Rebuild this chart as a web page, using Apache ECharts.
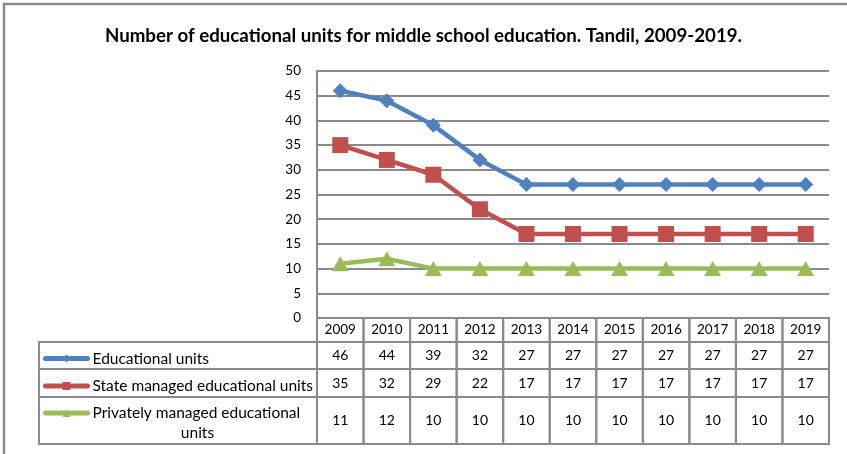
<!DOCTYPE html>
<html><head><meta charset="utf-8">
<script src="https://cdn.jsdelivr.net/npm/echarts@6/dist/echarts.min.js"></script>
<style>html,body{margin:0;padding:0;background:#fff}#c{width:847px;height:454px}</style>
</head><body><div id="c"></div>
<script>
const title = 'Number of educational units for middle school education. Tandil, 2009-2019.';
const years = ['2009','2010','2011','2012','2013','2014','2015','2016','2017','2018','2019'];
const seriesNames = ['Educational units','State managed educational units','Privately managed educational units'];
const totalUnits = [46,44,39,32,27,27,27,27,27,27,27];
const stateUnits = [35,32,29,22,17,17,17,17,17,17,17];
const privateUnits = [11,12,10,10,10,10,10,10,10,10,10];

const FONT = 'Lato';
const GRID = '#8a8a8a';
const colors = ['#4F81BD','#C0504D','#9BBB59'];
const rowOffsets = [0, 24, 51, 79, 126]; // header, row1, row2, row3 bottom (px below axis)

const chart = echarts.init(document.getElementById('c'), null, {renderer:'canvas'});

function legendFor(idx, top, extra) {
  return Object.assign({
    data: [seriesNames[idx]], left: 43, top: top, itemWidth: 42, itemHeight: 10, itemGap: 4, padding: 0,
    selectedMode: false, lineStyle: {width: 5, cap: 'round'},
    textStyle: {fontFamily: FONT, fontSize: 15.5, color: '#000'}
  }, extra || {});
}

chart.setOption({
  animation: false,
  title: {text: title, left: 'center', top: 21, textStyle: {fontFamily: FONT, fontWeight: 'bold', fontSize: 18.7, color: '#000'}},
  graphic: [{type:'rect', shape:{x:4,y:4,width:900,height:500}, style:{fill:'none', stroke:'#8a8a8a', lineWidth:2.5}, silent:true}],
  grid: {left: 317, top: 71, width: 512, height: 247},
  xAxis: {type:'category', data: years, boundaryGap: true,
    axisLine:{show:true, lineStyle:{color:GRID, width:2}}, axisTick:{show:false},
    axisLabel:{margin:5, fontFamily:FONT, fontSize:13.5, color:'#000', interval:0}},
  yAxis: {type:'value', min:0, max:50, interval:5,
    axisLine:{show:true, lineStyle:{color:GRID, width:2}}, axisTick:{show:false},
    axisLabel:{margin:16, fontFamily:FONT, fontSize:13.5, color:'#000'},
    splitLine:{show:true, lineStyle:{color:GRID, width:2}}},
  legend: [
    legendFor(0, 350.5),
    legendFor(1, 378),
    legendFor(2, 405, {formatter: () => '{a|Privately managed educational}\n{b|units}',
      textStyle:{fontFamily:FONT, fontSize:15.5, color:'#000', padding:[20,0,0,0],
        rich:{a:{fontFamily:FONT, fontSize:15.5, lineHeight:20}, b:{fontFamily:FONT, fontSize:15.5, lineHeight:20, width:210, align:'center'}}}})
  ],
  series: [
    {name: seriesNames[0], type:'line', data: totalUnits, color: colors[0], lineStyle:{width:4.5}, symbol:'diamond', symbolSize:[15,15], z:5},
    {name: seriesNames[1], type:'line', data: stateUnits, color: colors[1], lineStyle:{width:4.5}, symbol:'rect', symbolSize:[16,16], z:4},
    {name: seriesNames[2], type:'line', data: privateUnits, color: colors[2], lineStyle:{width:4.5}, symbol:'triangle', symbolSize:[17,15], z:3},
    {type:'custom', silent:true, clip:false, z:1,
      data: years.map((y,i)=>[i, totalUnits[i], stateUnits[i], privateUnits[i]]),
      renderItem: function(params, api){
        const i = api.value(0);
        const c = api.coord([i, 0]);
        const w = api.size([1, 0])[0];
        const x0 = c[0] - w/2;
        const y0 = c[1];
        const ch = [];
        const stroke = {fill:'none', stroke:GRID, lineWidth:2};
        for (let r = 0; r < 4; r++) {
          const ya = y0 + rowOffsets[r], yb = y0 + rowOffsets[r+1];
          ch.push({type:'rect', shape:{x:x0, y:ya, width:w, height:yb-ya}, style:stroke});
          if (r > 0) {
            ch.push({type:'text', style:{text: String(api.value(r)), x:c[0], y:(ya+yb)/2, align:'center', verticalAlign:'middle',
              font: '14px ' + FONT, fill:'#000'}});
            if (i === 0) ch.push({type:'rect', shape:{x:39, y:ya, width:x0-39, height:yb-ya}, style:stroke});
          }
        }
        return {type:'group', children: ch};
      }
    }
  ]
});
</script></body></html>
